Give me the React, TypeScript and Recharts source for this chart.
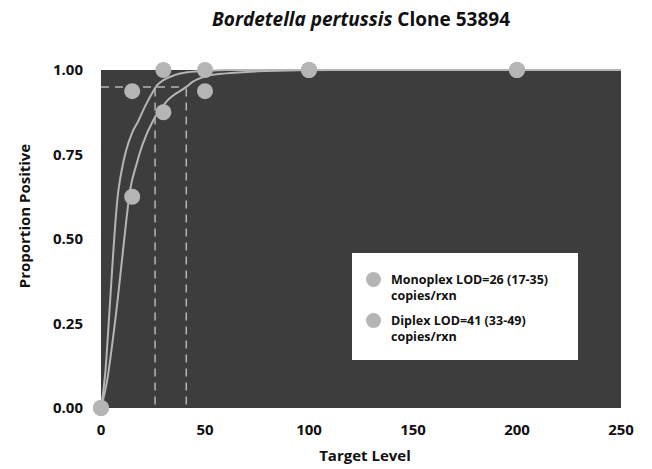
import React from 'react'
import {
  ComposedChart,
  Line,
  Scatter,
  XAxis,
  YAxis,
  CartesianGrid,
  ReferenceLine,
} from 'recharts'

// observed hit rates
const monoX = [0, 15, 30, 50, 100, 200]
const monoY = [0, 0.9375, 1.0, 1.0, 1.0, 1.0]
const diplexX = [0, 15, 30, 50, 100, 200]
const diplexY = [0, 0.625, 0.875, 0.9375, 1.0, 1.0]

// fitted curves
const monoFitX = [0, 2, 4, 6, 7, 8, 9, 10, 12, 15, 18, 21, 24, 27, 30, 35, 40, 50, 60, 80, 250]
const monoFitY = [0, 0.1, 0.28, 0.47, 0.555, 0.625, 0.67, 0.705, 0.76, 0.815, 0.85, 0.89, 0.925, 0.955, 0.97, 0.984, 0.992, 0.997, 1.0, 1.0, 1.0]
const diplexFitX = [0, 3, 5, 8, 11, 14, 17, 20, 25, 32, 41, 44, 51, 60, 80, 110, 250]
const diplexFitY = [0, 0.083, 0.17, 0.32, 0.49, 0.645, 0.72, 0.78, 0.85, 0.91, 0.95, 0.965, 0.982, 0.99, 0.997, 1.0, 1.0]

const LOD_LEVEL = 0.95
const monoLOD = 26
const diplexLOD = 41

const xTicks = [0, 50, 100, 150, 200, 250]
const yTicks = [0, 0.25, 0.5, 0.75, 1.0]

const legendLabels = [
  ['Monoplex LOD=26 (17-35)', 'copies/rxn'],
  ['Diplex LOD=41 (33-49)', 'copies/rxn'],
]

const toPoints = (xs: number[], ys: number[]) => xs.map((x, i) => ({ x, y: ys[i] }))

const FONT = '"Open Sans", sans-serif'
const GRAY = '#b5b5b5'
const textStyle = { fontFamily: FONT, fontWeight: 700, fontSize: 15, fill: '#111' }

function LegendBox() {
  return (
    <div
      style={{
        position: 'absolute',
        left: 352,
        top: 253,
        background: '#fff',
        width: 226,
        height: 107,
        boxSizing: 'border-box',
        padding: '19px 0 0 14px',
        fontFamily: FONT,
        fontWeight: 700,
        fontSize: 12.5,
        lineHeight: '16px',
        color: '#111',
      }}
    >
      {legendLabels.map((lines, i) => (
        <div key={i} style={{ display: 'flex', alignItems: 'flex-start', marginBottom: 9 }}>
          <div
            style={{
              width: 15,
              height: 15,
              borderRadius: '50%',
              background: GRAY,
              marginRight: 10,
              flexShrink: 0,
            }}
          />
          <div>
            {lines.map((l) => (
              <div key={l}>{l}</div>
            ))}
          </div>
        </div>
      ))}
    </div>
  )
}

// y-axis title sits a bit above the plot's middle in the original
const YTitle = () => (
  <text
    x={30}
    y={216}
    transform="rotate(-90 30 216)"
    textAnchor="middle"
    style={textStyle}
  >
    Proportion Positive
  </text>
)

export default function App() {
  const dot = (props: any) => <circle cx={props.cx} cy={props.cy} r={8} fill={GRAY} />
  return (
    <div style={{ position: 'absolute', left: 0, top: 0, width: 652, height: 469, background: '#fff' }}>
      <div
        style={{
          position: 'absolute',
          left: 101,
          width: 520,
          top: 10,
          textAlign: 'center',
          fontFamily: FONT,
          fontWeight: 700,
          fontSize: 19,
          lineHeight: '19px',
          color: '#111',
        }}
      >
        <i>Bordetella pertussis</i> Clone 53894
      </div>
      <ComposedChart width={652} height={469} margin={{ top: 70, right: 31, left: 0, bottom: 0 }}>
        <CartesianGrid fill="#3d3d3d" horizontal={false} vertical={false} />
        <XAxis
          type="number"
          dataKey="x"
          domain={[0, 250]}
          ticks={xTicks}
          axisLine={false}
          tickLine={false}
          height={61}
          tick={textStyle}
          tickMargin={10}
          label={{ value: 'Target Level', position: 'insideBottom', offset: 8, dx: 4, style: textStyle }}
        />
        <YAxis
          type="number"
          dataKey="y"
          domain={[0, 1]}
          ticks={yTicks}
          tickFormatter={(v: number) => v.toFixed(2)}
          axisLine={false}
          tickLine={false}
          width={101}
          tick={textStyle}
          tickMargin={12}
          label={{ content: YTitle }}
        />
        <ReferenceLine
          segment={[{ x: 0, y: LOD_LEVEL }, { x: diplexLOD, y: LOD_LEVEL }]}
          stroke={GRAY}
          strokeWidth={1.5}
          strokeDasharray="8 6"
        />
        <ReferenceLine
          segment={[{ x: monoLOD, y: 0.01 }, { x: monoLOD, y: LOD_LEVEL }]}
          stroke={GRAY}
          strokeWidth={1.5}
          strokeDasharray="8 6"
        />
        <ReferenceLine
          segment={[{ x: diplexLOD, y: 0.01 }, { x: diplexLOD, y: LOD_LEVEL }]}
          stroke={GRAY}
          strokeWidth={1.5}
          strokeDasharray="8 6"
        />
        <Line
          data={toPoints(monoFitX, monoFitY)}
          dataKey="y"
          type="monotone"
          stroke={GRAY}
          strokeWidth={2}
          dot={false}
          activeDot={false}
          isAnimationActive={false}
        />
        <Line
          data={toPoints(diplexFitX, diplexFitY)}
          dataKey="y"
          type="monotone"
          stroke={GRAY}
          strokeWidth={2}
          dot={false}
          activeDot={false}
          isAnimationActive={false}
        />
        <Scatter data={toPoints(monoX, monoY)} dataKey="y" shape={dot} isAnimationActive={false} />
        <Scatter data={toPoints(diplexX, diplexY)} dataKey="y" shape={dot} isAnimationActive={false} />
      </ComposedChart>
      <LegendBox />
    </div>
  )
}
